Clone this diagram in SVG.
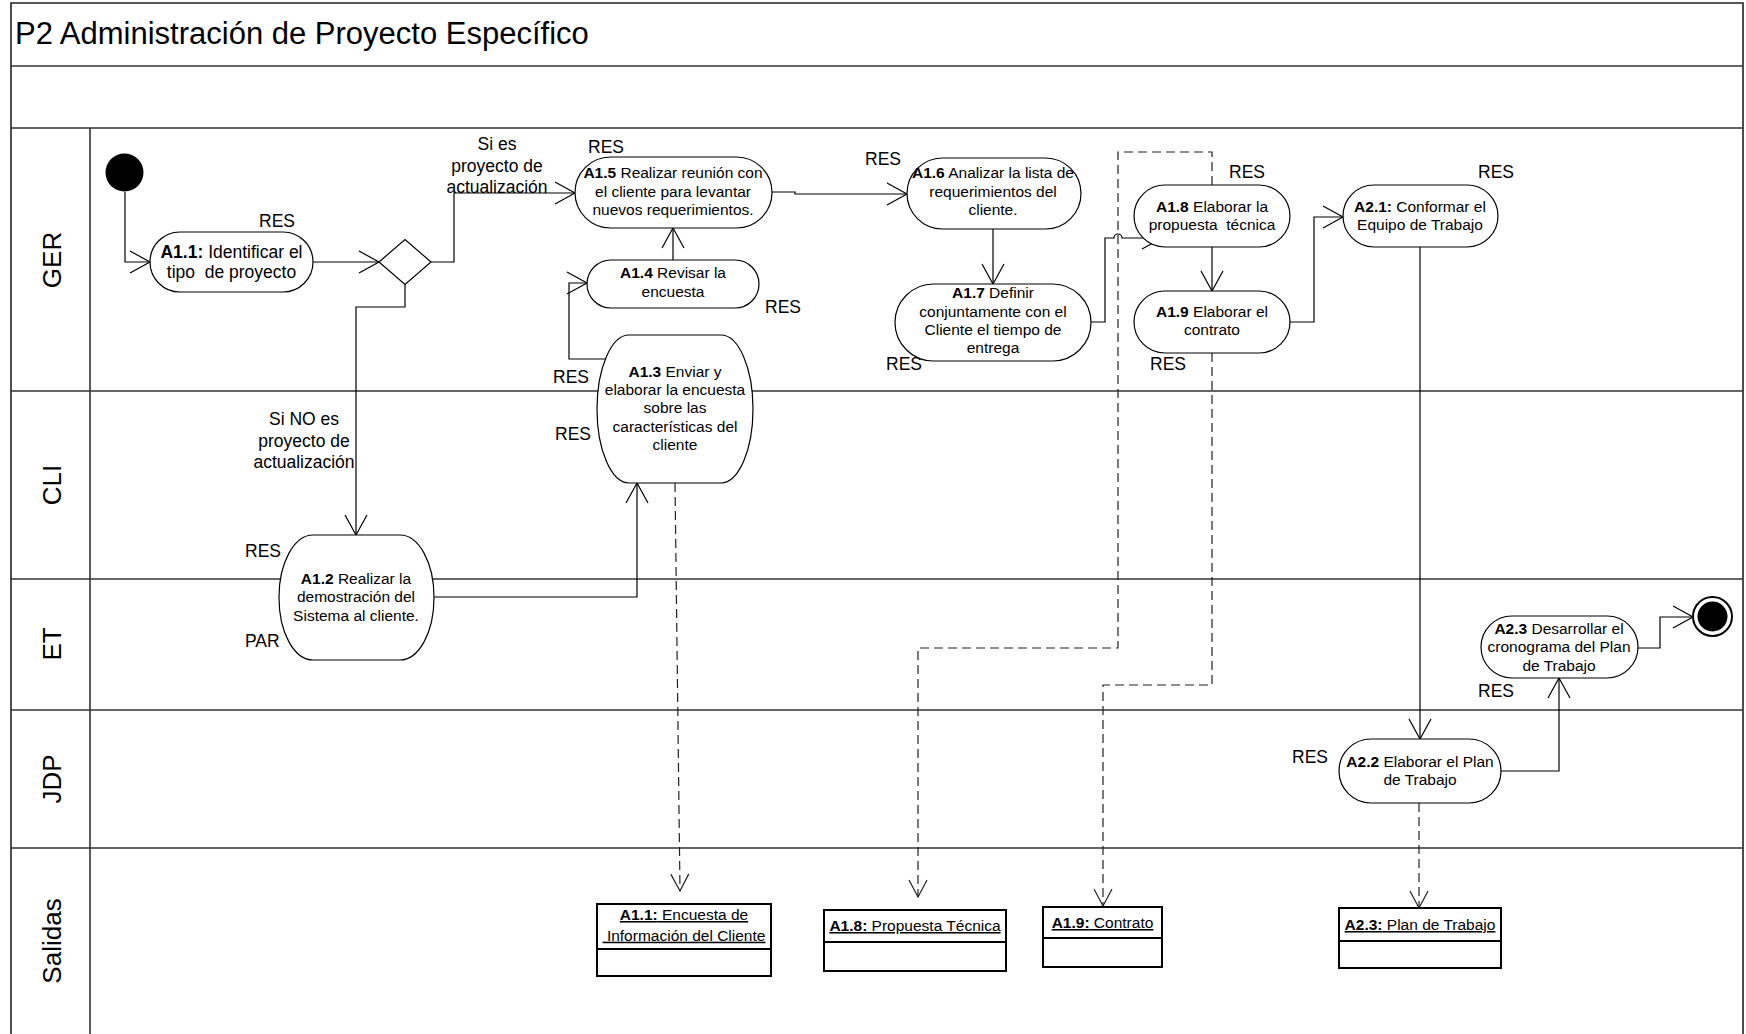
<svg xmlns="http://www.w3.org/2000/svg" width="1746" height="1034" viewBox="0 0 1746 1034">
  <style>
    text { font-family: "Liberation Sans", Arial, sans-serif; fill: #000; }
    .frame { fill: none; stroke: #222; stroke-width: 1.6; }
    .lane { stroke: #333; stroke-width: 1.6; }
    .title { font-size: 31px; }
    .lanelbl { font-size: 26px; text-anchor: middle; }
    .node { fill: #fff; stroke: #000; stroke-width: 1.2; }
    .nt { font-size: 15.5px; text-anchor: middle; }
    .big { font-size: 17.5px; }
    .res { font-size: 17.5px; }
    .cond { font-size: 17.5px; text-anchor: middle; }
    .conn { fill: none; stroke: #000; stroke-width: 1.2; marker-end: url(#arr); }
    .flow { fill: none; stroke: #222; stroke-width: 1.2; stroke-dasharray: 9 5; marker-end: url(#darr); }
    .obj { fill: #fff; stroke: #000; stroke-width: 2; }
    .ot { font-size: 15.5px; text-anchor: middle; text-decoration: underline; }
    .b { font-weight: bold; }
  </style>
  <defs>
    <marker id="arr" markerUnits="userSpaceOnUse" viewBox="-22 -13 24 26" markerWidth="24" markerHeight="26" refX="0" refY="0" orient="auto" overflow="visible">
      <path d="M-20,-11 L0,0 L-20,11" fill="none" stroke="#000" stroke-width="1.2"/>
    </marker>
    <marker id="darr" markerUnits="userSpaceOnUse" viewBox="-19 -11 20 22" markerWidth="20" markerHeight="22" refX="0" refY="0" orient="auto" overflow="visible">
      <path d="M-17,-9 L0,0 L-17,9" fill="none" stroke="#222" stroke-width="1.2"/>
    </marker>
  </defs>

  <rect x="0" y="0" width="1746" height="1034" fill="#fff"/>

  <!-- pool frame and swimlanes -->
  <g id="frame">
    <path class="frame" d="M11,1034 V3 H1743 V1034"/>
    <line class="lane" x1="11" y1="66" x2="1743" y2="66"/>
    <line class="lane" x1="11" y1="128" x2="1743" y2="128"/>
    <line class="lane" x1="11" y1="391" x2="1743" y2="391"/>
    <line class="lane" x1="11" y1="579" x2="1743" y2="579"/>
    <line class="lane" x1="11" y1="710" x2="1743" y2="710"/>
    <line class="lane" x1="11" y1="848" x2="1743" y2="848"/>
    <line class="lane" x1="90" y1="128" x2="90" y2="1034"/>
    <text class="title" x="15" y="44">P2 Administración de Proyecto Específico</text>
    <text class="lanelbl" transform="translate(61,260) rotate(-90)">GER</text>
    <text class="lanelbl" transform="translate(61,485) rotate(-90)">CLI</text>
    <text class="lanelbl" transform="translate(61,644) rotate(-90)">ET</text>
    <text class="lanelbl" transform="translate(61,779) rotate(-90)">JDP</text>
    <text class="lanelbl" transform="translate(61,941) rotate(-90)">Salidas</text>
  </g>

  <!-- connectors -->
  <g id="connectors">
    <path class="conn" d="M125,192 V262 H150"/>
    <path class="conn" d="M313,262 H379"/>
    <path class="conn" d="M431,262 H454 V193 H575"/>
    <path class="conn" d="M405,284 V307 H356 V535"/>
    <path class="conn" d="M434,597 H637 V483"/>
    <path class="conn" d="M607,359 H569 V283 H587"/>
    <path class="conn" d="M673,260 V228"/>
    <path class="conn" d="M772,192 H795 V194 H907"/>
    <path class="conn" d="M993,229 V284"/>
    <path class="conn" d="M1091,322 H1105 V238 H1114 A4,4 0 0 1 1122,238 H1162"/>
    <path class="conn" d="M1212,247 V291"/>
    <path class="conn" d="M1290,322 H1314 V217 H1343"/>
    <path class="conn" d="M1420,247 V739"/>
    <path class="conn" d="M1501,771 H1559 V678"/>
    <path class="conn" d="M1638,648 H1660 V617 H1693"/>

    <path class="flow" d="M675,483 L680,891"/>
    <path class="flow" d="M1212,185 V152 H1118 V648 H918 V897"/>
    <path class="flow" d="M1212,353 V685 H1103 V906"/>
    <path class="flow" d="M1419,803 V908"/>

    <text class="cond" x="497" y="150">Si es</text>
    <text class="cond" x="497" y="171.5">proyecto de</text>
    <text class="cond" x="497" y="193">actualización</text>
    <text class="cond" x="304" y="425">Si NO es</text>
    <text class="cond" x="304" y="446.5">proyecto de</text>
    <text class="cond" x="304" y="467.5">actualización</text>
  </g>

  <!-- start / end / decision -->
  <g id="start"><circle cx="124.5" cy="172.5" r="19" fill="#000"/></g>
  <g id="end">
    <circle cx="1712.5" cy="616.5" r="19.5" fill="#fff" stroke="#000" stroke-width="2"/>
    <circle cx="1712.5" cy="616.5" r="15" fill="#000"/>
  </g>
  <g id="decision"><polygon class="node" points="379,262 405,239.5 431,262 405,284.5"/></g>

  <!-- activities -->
  <g id="A1_1">
    <rect class="node" x="150" y="232" width="163" height="60" rx="30"/>
    <text class="nt big" x="231.5" y="258"><tspan class="b">A1.1:</tspan> Identificar el</text>
    <text class="nt big" x="231.5" y="278" xml:space="preserve">tipo  de proyecto</text>
    <text class="res" x="259" y="227">RES</text>
  </g>
  <g id="A1_2">
    <rect class="node" x="279" y="535" width="155" height="125" rx="34" ry="62"/>
    <text class="nt" x="356" y="584"><tspan class="b">A1.2</tspan> Realizar la</text>
    <text class="nt" x="356" y="602.3">demostración del</text>
    <text class="nt" x="356" y="620.7">Sistema al cliente.</text>
    <text class="res" x="245" y="557">RES</text>
    <text class="res" x="245" y="647">PAR</text>
  </g>
  <g id="A1_3">
    <rect class="node" x="597" y="335" width="156" height="148" rx="32" ry="74"/>
    <text class="nt" x="675" y="376.7"><tspan class="b">A1.3</tspan> Enviar y</text>
    <text class="nt" x="675" y="395">elaborar la encuesta</text>
    <text class="nt" x="675" y="413.3">sobre las</text>
    <text class="nt" x="675" y="431.7">características del</text>
    <text class="nt" x="675" y="450">cliente</text>
    <text class="res" x="553" y="383">RES</text>
    <text class="res" x="555" y="440">RES</text>
  </g>
  <g id="A1_4">
    <rect class="node" x="587" y="260" width="172" height="48" rx="24"/>
    <text class="nt" x="673" y="278.3"><tspan class="b">A1.4</tspan> Revisar la</text>
    <text class="nt" x="673" y="296.7">encuesta</text>
    <text class="res" x="765" y="313">RES</text>
  </g>
  <g id="A1_5">
    <rect class="node" x="575" y="157" width="197" height="71" rx="35.5"/>
    <text class="nt" x="673" y="178.3"><tspan class="b">A1.5</tspan> Realizar reunión con</text>
    <text class="nt" x="673" y="196.7">el cliente para levantar</text>
    <text class="nt" x="673" y="215">nuevos requerimientos.</text>
    <text class="res" x="588" y="153">RES</text>
  </g>
  <g id="A1_6">
    <rect class="node" x="907" y="158" width="174" height="71" rx="35.5"/>
    <text class="nt" x="993" y="178.3"><tspan class="b">A1.6</tspan> Analizar la lista de</text>
    <text class="nt" x="993" y="196.7">requerimientos del</text>
    <text class="nt" x="993" y="215">cliente.</text>
    <text class="res" x="865" y="165">RES</text>
  </g>
  <g id="A1_7">
    <rect class="node" x="895" y="284" width="196" height="77" rx="38.5"/>
    <text class="nt" x="993" y="298.3"><tspan class="b">A1.7</tspan> Definir</text>
    <text class="nt" x="993" y="316.7">conjuntamente con el</text>
    <text class="nt" x="993" y="335">Cliente el tiempo de</text>
    <text class="nt" x="993" y="353.3">entrega</text>
    <text class="res" x="886" y="370">RES</text>
  </g>
  <g id="A1_8">
    <rect class="node" x="1134" y="185" width="156" height="62" rx="31"/>
    <text class="nt" x="1212" y="211.7"><tspan class="b">A1.8</tspan> Elaborar la</text>
    <text class="nt" x="1212" y="230" xml:space="preserve">propuesta  técnica</text>
    <text class="res" x="1229" y="178">RES</text>
  </g>
  <g id="A1_9">
    <rect class="node" x="1134" y="291" width="156" height="62" rx="31"/>
    <text class="nt" x="1212" y="316.7"><tspan class="b">A1.9</tspan> Elaborar el</text>
    <text class="nt" x="1212" y="335">contrato</text>
    <text class="res" x="1150" y="370">RES</text>
  </g>
  <g id="A2_1">
    <rect class="node" x="1343" y="185" width="155" height="62" rx="31"/>
    <text class="nt" x="1420" y="211.7"><tspan class="b">A2.1:</tspan> Conformar el</text>
    <text class="nt" x="1420" y="230">Equipo de Trabajo</text>
    <text class="res" x="1478" y="178">RES</text>
  </g>
  <g id="A2_2">
    <rect class="node" x="1339" y="739" width="162" height="64" rx="32"/>
    <text class="nt" x="1420" y="766.7"><tspan class="b">A2.2</tspan> Elaborar el Plan</text>
    <text class="nt" x="1420" y="785">de Trabajo</text>
    <text class="res" x="1292" y="763">RES</text>
  </g>
  <g id="A2_3">
    <rect class="node" x="1481" y="616" width="157" height="62" rx="31"/>
    <text class="nt" x="1559" y="634"><tspan class="b">A2.3</tspan> Desarrollar el</text>
    <text class="nt" x="1559" y="652.3">cronograma del Plan</text>
    <text class="nt" x="1559" y="670.7">de Trabajo</text>
    <text class="res" x="1478" y="697">RES</text>
  </g>

  <!-- output objects -->
  <g id="O_A1_1">
    <rect class="obj" x="597" y="904" width="174" height="72"/>
    <line class="obj" x1="597" y1="949" x2="771" y2="949"/>
    <text class="ot" x="684" y="920"><tspan class="b">A1.1:</tspan> Encuesta de</text>
    <text class="ot" x="684" y="940.7" xml:space="preserve"> Información del Cliente</text>
  </g>
  <g id="O_A1_8">
    <rect class="obj" x="824" y="910" width="182" height="61"/>
    <line class="obj" x1="824" y1="942" x2="1006" y2="942"/>
    <text class="ot" x="915" y="931"><tspan class="b">A1.8:</tspan> Propuesta Técnica</text>
  </g>
  <g id="O_A1_9">
    <rect class="obj" x="1043" y="907" width="119" height="60"/>
    <line class="obj" x1="1043" y1="938" x2="1162" y2="938"/>
    <text class="ot" x="1102.5" y="928"><tspan class="b">A1.9:</tspan> Contrato</text>
  </g>
  <g id="O_A2_3">
    <rect class="obj" x="1339" y="908" width="162" height="60"/>
    <line class="obj" x1="1339" y1="941" x2="1501" y2="941"/>
    <text class="ot" x="1420" y="930"><tspan class="b">A2.3:</tspan> Plan de Trabajo</text>
  </g>
</svg>
